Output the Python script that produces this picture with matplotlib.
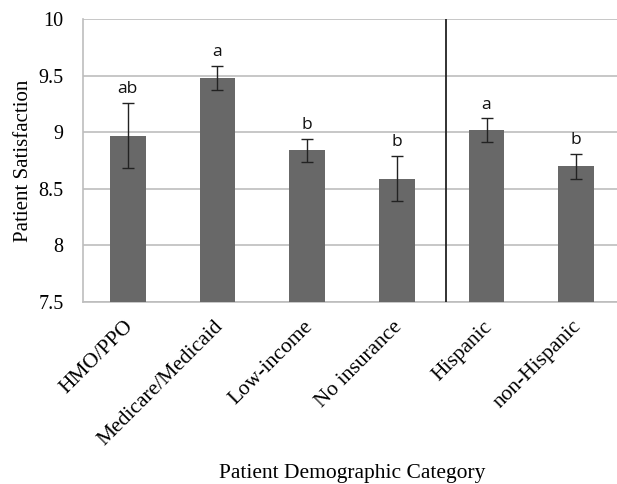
import numpy as np
import matplotlib
matplotlib.use("Agg")
import matplotlib.pyplot as plt
import matplotlib.transforms as mtransforms

categories = ["HMO/PPO", "Medicare/Medicaid", "Low-income", "No insurance", "Hispanic", "non-Hispanic"]
means = [8.97, 9.48, 8.84, 8.59, 9.02, 8.70]
errors = [0.29, 0.105, 0.10, 0.20, 0.105, 0.11]
letters = ["ab", "a", "b", "b", "a", "b"]
yticks = [7.5, 8, 8.5, 9, 9.5, 10]
ytick_labels = ["7.5", "8", "8.5", "9", "9.5", "10"]

serif = ["Liberation Serif", "DejaVu Serif"]
plt.rcParams["font.family"] = serif

fig = plt.figure(figsize=(6.17, 4.84), dpi=100)
ax = fig.add_axes([0.1345, 0.376, 0.872, 0.5847])

x = np.arange(len(categories))
ax.bar(x, means, width=0.4, color="#686868", zorder=3)
ax.errorbar(x, means, yerr=errors, fmt="none", ecolor="#222222", elinewidth=1.0,
            capsize=4, capthick=1.0, zorder=4)

# significance letters, sans font like the original
for xi, m, e, lab in zip(x, means, errors, letters):
    ax.annotate(lab, (xi, m + e), xytext=(0, 4), textcoords="offset points",
                ha="center", va="bottom", fontsize=12.5, family="Open Sans", color="#111111")

# divider between insurance and ethnicity groups
ax.axvline(3.55, color="#222222", lw=1.3, zorder=5)

ax.set_xlim(-0.5, 5.5)
ax.set_ylim(7.5, 10)
ax.set_yticks(yticks)
ax.set_yticklabels(ytick_labels, fontsize=14.5)
ax.set_xticks(x)
ax.set_xticklabels(categories, rotation=45, ha="right", rotation_mode="anchor", fontsize=15.5)
ax.tick_params(axis="x", length=0, pad=11)
ax.tick_params(axis="y", length=0, pad=14)

for lbl in ax.get_yticklabels():
    lbl.set_fontfamily("Liberation Serif")
shift = mtransforms.ScaledTranslation(-4 / 100, 0, fig.dpi_scale_trans)
for lbl in ax.get_xticklabels():
    lbl.set_transform(lbl.get_transform() + shift)

ax.grid(axis="y", color="#bdbdbd", lw=1.2, zorder=0)
for s in ["top", "right"]:
    ax.spines[s].set_visible(False)
for s in ["left", "bottom"]:
    ax.spines[s].set_color("#bdbdbd")
    ax.spines[s].set_linewidth(1.2)

ax.set_ylabel("Patient Satisfaction", fontsize=15)
fig.text(0.571, 0.0124, "Patient Demographic Category", fontsize=15.5,
         ha="center", va="baseline")

fig.savefig("out.png", dpi=100)
